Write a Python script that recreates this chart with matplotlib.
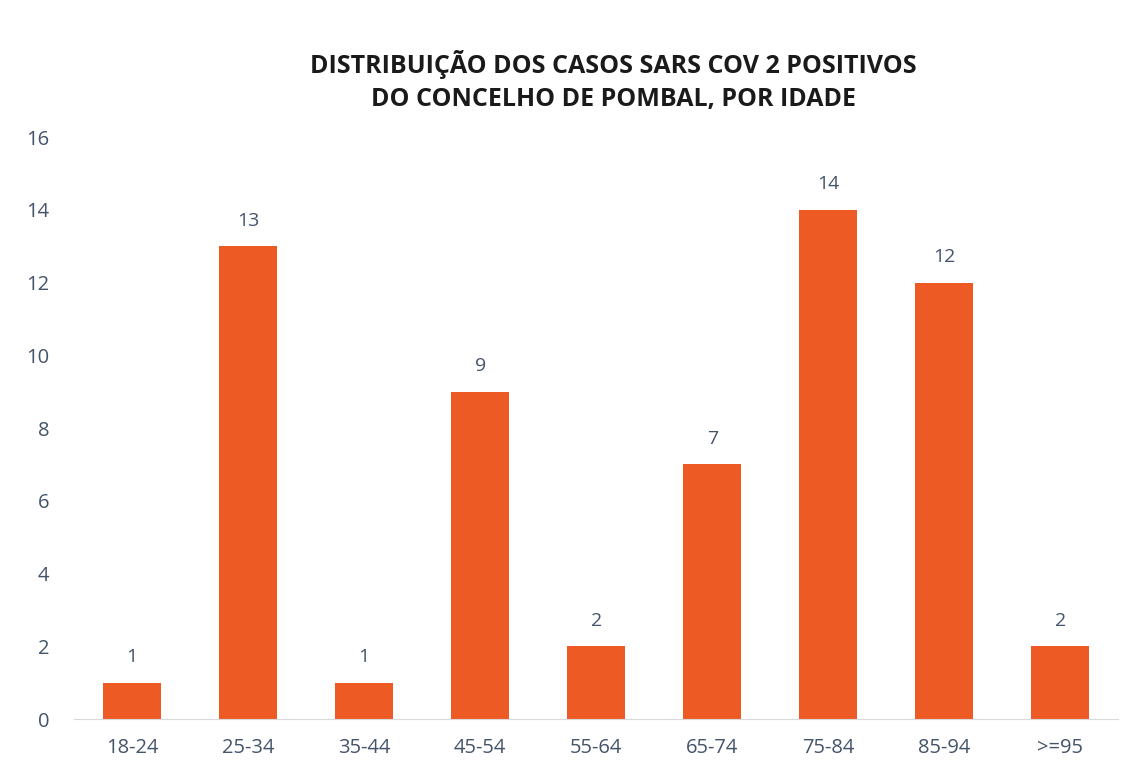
import matplotlib.pyplot as plt
import numpy as np

plt.rcParams['font.family'] = ['Open Sans', 'DejaVu Sans']

idades = ['18-24', '25-34', '35-44', '45-54', '55-64', '65-74', '75-84', '85-94', '>=95']
casos = [1, 13, 1, 9, 2, 7, 14, 12, 2]

cor_barra = '#EE5A24'
cor_texto = '#44546A'

fig = plt.figure(figsize=(11.4, 7.77), dpi=100)
ax = fig.add_axes([0.065, 0.0746, 0.916, 0.749])

x = np.arange(len(idades))
barras = ax.bar(x, casos, 0.5, color=cor_barra)

for xi, v in zip(x, casos):
    ax.text(xi, v + 0.45, str(v), ha='center', va='bottom', fontsize=14, color=cor_texto)

ax.set_xlim(-0.5, len(idades) - 0.5)
ax.set_ylim(0, 16)
ax.set_yticks(range(0, 17, 2))
ax.set_xticks(x, idades)
ax.tick_params(axis='both', length=0, labelsize=14.5, colors=cor_texto)
ax.tick_params(axis='x', pad=14)
ax.tick_params(axis='y', pad=18)
for s in ['top', 'right', 'left']:
    ax.spines[s].set_visible(False)
ax.spines['bottom'].set_color('#D9D9D9')

fig.text(0.538, 0.896, 'DISTRIBUIÇÃO DOS CASOS SARS COV 2 POSITIVOS\nDO CONCELHO DE POMBAL, POR IDADE',
         ha='center', va='center', fontsize=18, fontweight='bold', color='#1a1a1a', linespacing=1.45)

fig.savefig('out.png', dpi=100)
